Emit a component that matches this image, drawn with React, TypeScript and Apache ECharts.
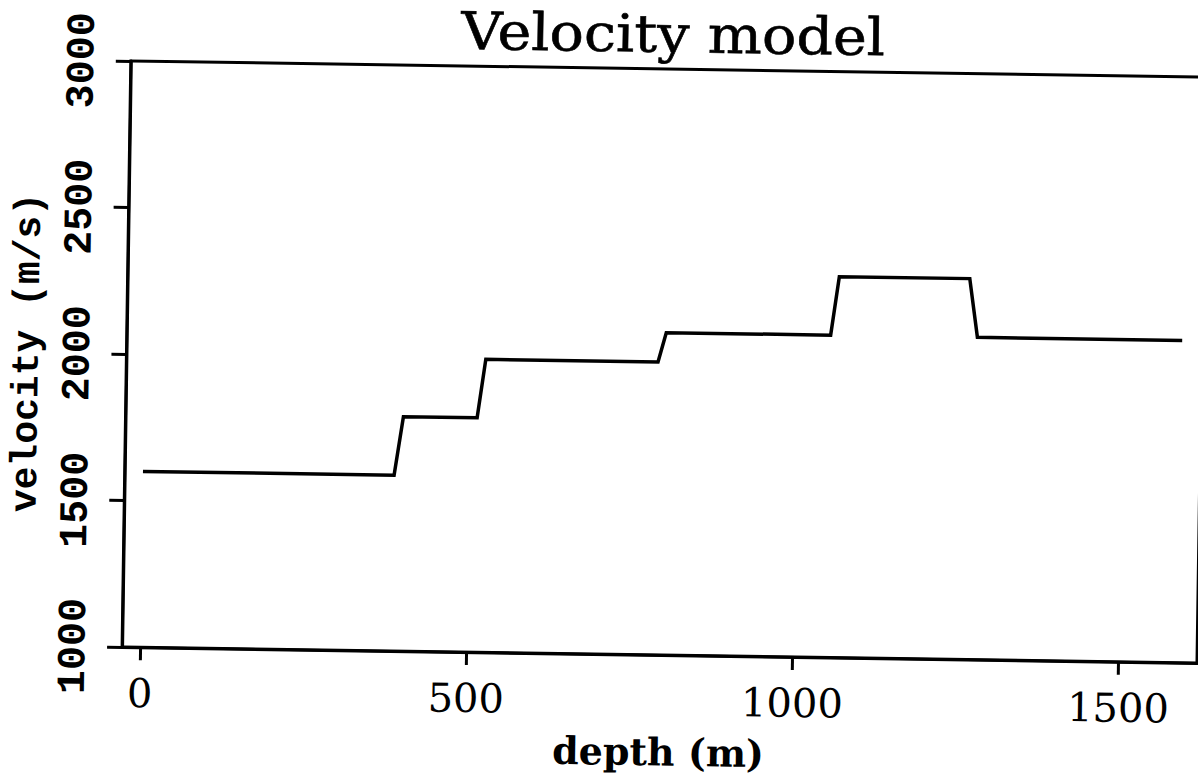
import React, { useEffect, useRef } from "react";
import * as echarts from "echarts";

// depth (m) and velocity (m/s) of the step velocity model
const depth = [0, 385, 398, 511, 523, 787, 799, 1051, 1063, 1263, 1276, 1590];
const velocity = [1600, 1600, 1800, 1800, 2000, 2000, 2100, 2100, 2300, 2300, 2100, 2100];
const xTicks = [0, 500, 1000, 1500];
const titleText = "Velocity model";
const xName = "depth (m)";
const yName = "velocity (m/s)";

export default function App() {
  const ref = useRef<HTMLDivElement>(null);
  useEffect(() => {
    if (!ref.current) return;
    const chart = echarts.init(ref.current, undefined, { renderer: "svg" });
    const axisLineStyle = { color: "#000", width: 3 };
    chart.setOption({
      animation: false,
      backgroundColor: "#fff",
      grid: {
        left: 125.5,
        right: 9,
        top: 68,
        bottom: 121,
        show: true,
        borderColor: "#000",
        borderWidth: 3,
        backgroundColor: "transparent",
      },
      xAxis: {
        type: "value",
        min: -28,
        max: 1620,
        splitLine: { show: false },
        axisLine: { show: true, onZero: false, lineStyle: axisLineStyle },
        axisTick: { show: true, length: 13, customValues: xTicks, lineStyle: axisLineStyle },
        axisLabel: {
          customValues: xTicks,
          formatter: (v: number) => String(v),
          margin: 26,
          fontFamily: "DejaVu Serif",
          fontSize: 40,
          color: "#000",
        },
        name: xName,
        nameLocation: "middle",
        nameGap: 78,
        nameTextStyle: { fontFamily: "DejaVu Serif", fontWeight: "bold", fontSize: 38, color: "#000" },
      },
      yAxis: {
        type: "value",
        min: 1000,
        max: 3000,
        interval: 500,
        splitLine: { show: false },
        axisLine: { show: true, onZero: false, lineStyle: axisLineStyle },
        axisTick: { show: true, length: 15, lineStyle: axisLineStyle },
        axisLabel: {
          rotate: 90,
          margin: 28,
          formatter: (v: number) => String(v),
          fontFamily: "Liberation Mono",
          fontWeight: "bold",
          fontSize: 40,
          color: "#000",
        },
        name: yName,
        nameLocation: "middle",
        nameGap: 80,
        nameRotate: 90,
        nameTextStyle: { fontFamily: "Liberation Mono", fontWeight: "bold", fontSize: 38, color: "#000" },
      },
      series: [
        {
          type: "line",
          data: depth.map((d, i) => [d, velocity[i]]),
          showSymbol: false,
          symbol: "none",
          lineStyle: { color: "#000", width: 3.5, join: "miter" },
          itemStyle: { color: "#000" },
        },
      ],
      graphic: [
        {
          type: "text",
          x: 668,
          y: 33,
          scaleX: 1.1,
          style: {
            text: titleText,
            fontFamily: "DejaVu Serif",
            fontSize: 52,
            fill: "#000",
            stroke: "#000",
            lineWidth: 0.6,
            textAlign: "center",
            textVerticalAlign: "middle",
            align: "center",
            verticalAlign: "middle",
          },
        },
      ],
    });
    return () => chart.dispose();
  }, []);
  return (
    <div
      style={{
        position: "fixed",
        left: 0,
        top: 0,
        width: 1198,
        height: 775,
        overflow: "hidden",
        background: "#fff",
      }}
    >
      <div
        ref={ref}
        style={{
          position: "absolute",
          left: 0,
          top: 0,
          width: 1210,
          height: 775,
          transform: "rotate(0.853deg)",
          transformOrigin: "599px 387.5px",
        }}
      />
    </div>
  );
}
